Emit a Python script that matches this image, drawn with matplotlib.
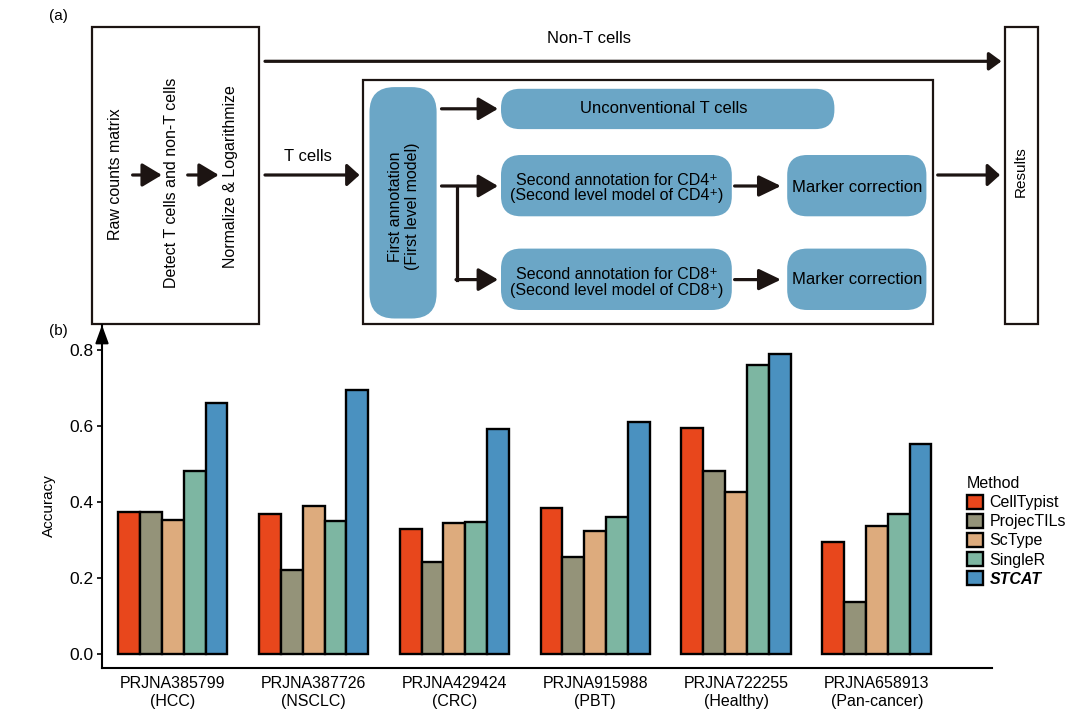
import numpy as np
import matplotlib.pyplot as plt
from matplotlib.patches import FancyBboxPatch, Rectangle, FancyArrowPatch

plt.rcParams['font.family'] = ['Liberation Sans', 'DejaVu Sans']

# accuracy per dataset
datasets = ['PRJNA385799', 'PRJNA387726', 'PRJNA429424', 'PRJNA915988', 'PRJNA722255', 'PRJNA658913']
tissues = ['HCC', 'NSCLC', 'CRC', 'PBT', 'Healthy', 'Pan-cancer']
methods = ['CellTypist', 'ProjecTILs', 'ScType', 'SingleR', 'STCAT']
celltypist = [0.373, 0.368, 0.329, 0.385, 0.596, 0.296]
projectils = [0.375, 0.220, 0.242, 0.256, 0.483, 0.136]
sctype = [0.354, 0.389, 0.346, 0.325, 0.426, 0.336]
singler = [0.482, 0.349, 0.348, 0.361, 0.760, 0.369]
stcat = [0.661, 0.695, 0.592, 0.611, 0.789, 0.553]
yticks = [0.0, 0.2, 0.4, 0.6, 0.8]

colors = ['#e8471c', '#949379', '#ddab7d', '#7db6a2', '#4a91c0']
ink = '#1c1412'
pill = '#6ba6c6'

fig = plt.figure(figsize=(10.8, 7.25), dpi=100)

# ---- (a) workflow, drawn in pixel coordinates ----
fa = fig.add_axes([0, 0, 1, 1])
fa.set_xlim(0, 1080)
fa.set_ylim(725, 0)
fa.axis('off')


def box(x0, y0, x1, y1):
    fa.add_patch(Rectangle((x0, y0), x1 - x0, y1 - y0, fill=False, ec=ink, lw=1.6))


def capsule(x0, y0, x1, y1, r):
    fa.add_patch(FancyBboxPatch((x0, y0), x1 - x0, y1 - y0,
                                boxstyle='round,pad=0,rounding_size=%g' % r,
                                fc=pill, ec='none'))


def arrow(x0, y0, x1, y1, hl=1.0, hw=0.65):
    fa.add_patch(FancyArrowPatch((x0, y0), (x1, y1),
                                 arrowstyle='-|>,head_length=%g,head_width=%g' % (hl, hw),
                                 mutation_scale=10, lw=2.3, color=ink,
                                 shrinkA=0, shrinkB=0))


fs = 12
box(91.6, 26.9, 259, 323.7)
box(362.6, 80.2, 932.6, 323.7)
box(1004.9, 26.9, 1037.6, 323.7)

fa.text(115.4, 174, 'Raw counts matrix', rotation=90, ha='center', va='center', fontsize=11.5)
fa.text(172, 182.5, 'Detect T cells and non-T cells', rotation=90, ha='center', va='center', fontsize=11.5)
fa.text(230, 177, 'Normalize & Logarithmize', rotation=90, ha='center', va='center', fontsize=11.5)
arrow(132.6, 175, 161.8, 175, 1.2, 0.72)
arrow(187.7, 175, 218.7, 175, 1.2, 0.72)

arrow(265, 61.3, 1001.5, 61.3, 0.75, 0.55)
fa.text(589, 38.6, 'Non-T cells', ha='center', va='center', fontsize=fs)
arrow(265, 175, 359.5, 175, 0.75, 0.68)
fa.text(308, 156.7, 'T cells', ha='center', va='center', fontsize=fs)

capsule(369.5, 87.1, 436.6, 318.5, 25)
fa.text(404, 206.6, 'First annotation\n(First level model)', rotation=90,
        ha='center', va='center', fontsize=11.5, linespacing=1.1)

capsule(501, 88.8, 834.4, 129.1, 19)
fa.text(664, 108.5, 'Unconventional T cells', ha='center', va='center', fontsize=fs)
arrow(441.5, 108.8, 498, 108.8, 1.2, 0.7)

capsule(501, 155, 731.8, 216.3, 20)
capsule(501, 248.6, 731.8, 310, 20)
fa.text(617, 188, 'Second annotation for CD4\u207a\n(Second level model of CD4\u207a)',
        ha='center', va='center', fontsize=11.5, linespacing=1.05)
fa.text(617, 282.5, 'Second annotation for CD8\u207a\n(Second level model of CD8\u207a)',
        ha='center', va='center', fontsize=11.5, linespacing=1.05)
arrow(441.5, 186, 498, 186, 1.2, 0.7)
fa.plot([457.3, 457.3], [186, 279.6], color=ink, lw=2.3, solid_capstyle='projecting')
arrow(456, 279.6, 498, 279.6, 1.2, 0.7)

capsule(787.2, 155, 926.4, 216.3, 20)
capsule(787.2, 248.6, 926.4, 310, 20)
fa.text(856.8, 187, 'Marker correction', ha='center', va='center', fontsize=fs)
fa.text(856.8, 279.5, 'Marker correction', ha='center', va='center', fontsize=fs)
arrow(734.6, 186, 781, 186, 1.35, 0.65)
arrow(734.6, 279.6, 781, 279.6, 1.35, 0.65)

arrow(937.7, 175, 1000, 175, 0.75, 0.68)
fa.text(1021, 172, 'Results', rotation=90, ha='center', va='center', fontsize=11)

fa.text(58, 15.5, '(a)', ha='center', va='center', fontsize=11)
fa.text(58, 331, '(b)', ha='center', va='center', fontsize=11)

# ---- (b) accuracy bars ----
ax = fig.add_axes([102 / 1080, 57 / 725, 890 / 1080, 343 / 725])
ax.set_facecolor('none')
x = np.arange(len(datasets))
w = 0.1553
series = [celltypist, projectils, sctype, singler, stcat]
for i, vals in enumerate(series):
    ax.bar(x + (i - 2) * w, vals, w, color=colors[i], edgecolor='black',
           linewidth=1.7, label=methods[i])

ax.set_xlim(-0.503, 5.818)
ax.set_ylim(-0.0368, 0.866)
for s in ['top', 'right']:
    ax.spines[s].set_visible(False)
for s in ['left', 'bottom']:
    ax.spines[s].set_linewidth(1.5)
ax.annotate('', xy=(0, 1.0), xycoords='axes fraction', xytext=(0, 0.95),
            arrowprops=dict(arrowstyle='-|>,head_length=1.1,head_width=0.4',
                            mutation_scale=10, lw=1.5, color='black',
                            shrinkA=0, shrinkB=0),
            annotation_clip=False)

ax.set_yticks(yticks)
ax.set_yticklabels(['%.1f' % v for v in yticks])
ax.tick_params(axis='y', direction='out', length=3.6, width=1.2, labelsize=12.5, pad=2.5)
ax.set_xticks(x)
ax.set_xticklabels([d + '\n(' + t + ')' for d, t in zip(datasets, tissues)])
ax.tick_params(axis='x', length=0, labelsize=11.5, pad=6)
fig.text(49 / 1080, 1 - 506 / 725, 'Accuracy', rotation=90, ha='center', va='center', fontsize=11)

leg = ax.legend(loc='upper left', bbox_to_anchor=(967 / 1080, 1 - 476 / 725),
                bbox_transform=fig.transFigure, frameon=False, title='Method',
                fontsize=11.5, title_fontsize=11.5, handlelength=1.0, handleheight=1.0,
                handletextpad=0.4, labelspacing=0.22, borderpad=0, borderaxespad=0,
                alignment='left')
leg.get_texts()[4].set_fontweight('bold')
leg.get_texts()[4].set_fontstyle('italic')

fig.savefig('out.png', dpi=100)
